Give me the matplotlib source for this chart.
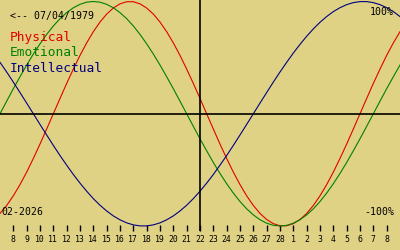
import matplotlib
matplotlib.use('Agg')
import matplotlib.pyplot as plt

# Biorhythm, 30 days centred on 22 Feb 2026 (index 0 = 7 Feb), read every half day
day_labels = [8, 9, 10, 11, 12, 13, 14, 15, 16, 17, 18, 19, 20, 21, 22, 23, 24,
              25, 26, 27, 28, 1, 2, 3, 4, 5, 6, 7, 8]
physical = [-0.888, -0.817, -0.731, -0.631, -0.520, -0.398, -0.270, -0.136,
            0.000, 0.136, 0.270, 0.398, 0.520, 0.631, 0.731, 0.817, 0.888,
            0.942, 0.979, 0.998, 0.998, 0.979, 0.942, 0.888, 0.817, 0.731,
            0.631, 0.520, 0.398, 0.270, 0.136, 0.000, -0.136, -0.270, -0.398,
            -0.520, -0.631, -0.731, -0.817, -0.888, -0.942, -0.979, -0.998,
            -0.998, -0.979, -0.942, -0.888, -0.817, -0.731, -0.631, -0.520,
            -0.398, -0.270, -0.136, 0.000, 0.136, 0.270, 0.398, 0.520, 0.631,
            0.731]
emotional = [0.000, 0.112, 0.223, 0.330, 0.434, 0.532, 0.623, 0.707, 0.782,
             0.847, 0.901, 0.944, 0.975, 0.994, 1.000, 0.994, 0.975, 0.944,
             0.901, 0.847, 0.782, 0.707, 0.623, 0.532, 0.434, 0.330, 0.223,
             0.112, 0.000, -0.112, -0.223, -0.330, -0.434, -0.532, -0.623,
             -0.707, -0.782, -0.847, -0.901, -0.944, -0.975, -0.994, -1.000,
             -0.994, -0.975, -0.944, -0.901, -0.847, -0.782, -0.707, -0.623,
             -0.532, -0.434, -0.330, -0.223, -0.112, 0.000, 0.112, 0.223,
             0.330, 0.434]
intellectual = [0.458, 0.372, 0.282, 0.189, 0.095, 0.000, -0.095, -0.189,
                -0.282, -0.372, -0.458, -0.541, -0.618, -0.690, -0.756, -0.815,
                -0.866, -0.910, -0.945, -0.972, -0.990, -0.999, -0.999, -0.990,
                -0.972, -0.945, -0.910, -0.866, -0.815, -0.756, -0.690, -0.618,
                -0.541, -0.458, -0.372, -0.282, -0.189, -0.095, 0.000, 0.095,
                0.189, 0.282, 0.372, 0.458, 0.541, 0.618, 0.690, 0.756, 0.815,
                0.866, 0.910, 0.945, 0.972, 0.990, 0.999, 0.999, 0.990, 0.972,
                0.945, 0.910, 0.866]
today_idx = 15
birth = '07/04/1979'
month_label = '02-2026'

BG = '#e0d285'
MONO = 'DejaVu Sans Mono'

fig = plt.figure(figsize=(4, 2.5), dpi=100, facecolor=BG)
ax = fig.add_axes([0, 19 / 250, 1, 231 / 250], facecolor=BG)

days = [i * 0.5 for i in range(len(physical))]
ax.plot(days, physical, color='#e00000', lw=0.8)
ax.plot(days, emotional, color='#008000', lw=0.8)
ax.plot(days, intellectual, color='#000080', lw=0.8)

ax.axhline(0, color='black', lw=1.2)
ax.axvline(today_idx, color='black', lw=1.2)

ax.set_xlim(0, days[-1])
ax.set_ylim(-1.0445, 1.0134)
for s in ax.spines.values():
    s.set_visible(False)
ax.set_yticks([])
ax.set_xticks(range(1, len(day_labels) + 1))
ax.set_xticklabels([str(d) for d in day_labels], fontfamily=MONO, fontsize=5.9)
ax.tick_params(axis='x', direction='in', length=4.3, width=1, pad=3)

fig.text(10 / 400, 1 - 16 / 250, '<-- ' + birth, fontfamily=MONO, fontsize=7.1,
         va='center', ha='left')
for txt, col, yp in [('Physical', '#e00000', 38), ('Emotional', '#008000', 53),
                     ('Intellectual', '#000080', 68)]:
    fig.text(10 / 400, 1 - yp / 250, txt, color=col, fontfamily=MONO,
             fontsize=9.3, va='center', ha='left')
fig.text(394 / 400, 1 - 12 / 250, '100%', fontfamily=MONO, fontsize=7.1,
         va='center', ha='right')
fig.text(394 / 400, 1 - 212 / 250, '-100%', fontfamily=MONO, fontsize=7.1,
         va='center', ha='right')
fig.text(1 / 400, 1 - 212 / 250, month_label, fontfamily=MONO, fontsize=7.1,
         va='center', ha='left')

fig.savefig('out.png', dpi=100, facecolor=BG)
